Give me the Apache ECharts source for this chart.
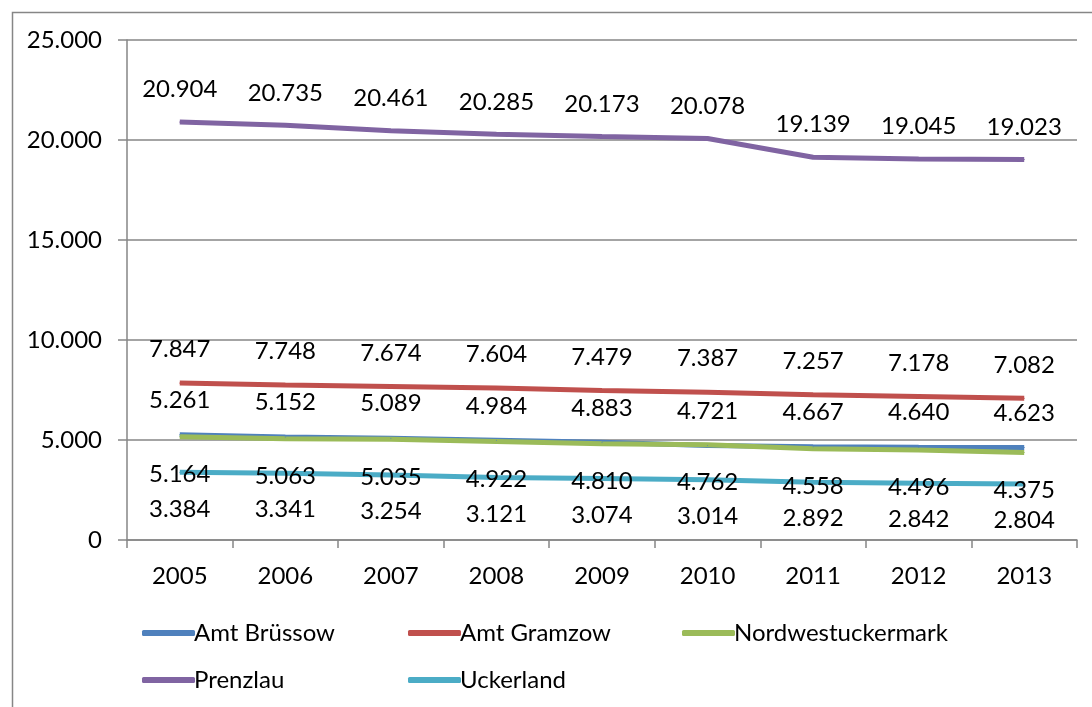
<!DOCTYPE html>
<html><head><meta charset="utf-8">
<script src="https://cdn.jsdelivr.net/npm/echarts@6/dist/echarts.min.js"></script>
<style>html,body{margin:0;padding:0;background:#fff}#c{width:1092px;height:707px}</style>
</head><body><div id="c"></div>
<script>
const years = ['2005','2006','2007','2008','2009','2010','2011','2012','2013'];
const amtBruessow = [5261,5152,5089,4984,4883,4721,4667,4640,4623];
const amtGramzow = [7847,7748,7674,7604,7479,7387,7257,7178,7082];
const nordwestuckermark = [5164,5063,5035,4922,4810,4762,4558,4496,4375];
const prenzlau = [20904,20735,20461,20285,20173,20078,19139,19045,19023];
const uckerland = [3384,3341,3254,3121,3074,3014,2892,2842,2804];
const yTicks = {min:0, max:25000, interval:5000};

const FONT = 'Lato';
const fmt = v => { const s = String(Math.round(v)); return s.replace(/\B(?=(\d{3})+(?!\d))/g, '.'); };

function mk(name, data, color, pos, dist) {
  return {
    name, type:'line', data, symbol:'circle', symbolSize:1,
    itemStyle:{color}, lineStyle:{color, width:5},
    label:{show:true, position:pos, distance:dist, color:'#000', fontFamily:FONT, fontSize:24,
      formatter: p => fmt(p.value)},
    emphasis:{disabled:true}, animation:false
  };
}
const chart = echarts.init(document.getElementById('c'));
const legendCommon = {
  icon:'roundRect', itemWidth:53, itemHeight:6, itemGap:0,
  textStyle:{fontFamily:FONT, fontSize:24, color:'#000', padding:[0,0,0,-6]}
};
const lg = (name, left, top) => Object.assign({}, legendCommon, {left, top, data:[name]});
chart.setOption({
  animation:false,
  graphic:[{type:'rect', left:10, top:10, shape:{width:1200, height:800}, style:{fill:'none', stroke:'#868686', lineWidth:1.5}, silent:true}],
  grid:{left:127, right:15, top:40, bottom:167},
  legend:[
    lg('Amt Brüssow', 137, 616),
    lg('Amt Gramzow', 403, 616),
    lg('Nordwestuckermark', 677, 616),
    lg('Prenzlau', 137, 663),
    lg('Uckerland', 403, 663)
  ],
  xAxis:{type:'category', data:years, boundaryGap:true,
    axisLine:{lineStyle:{color:'#868686', width:1.5}},
    axisTick:{show:true, length:8, lineStyle:{color:'#868686', width:1.5}},
    axisLabel:{color:'#000', fontFamily:FONT, fontSize:24, margin:24}},
  yAxis:{type:'value', min:yTicks.min, max:yTicks.max, interval:yTicks.interval,
    axisLine:{show:true, lineStyle:{color:'#868686', width:1.5}},
    axisTick:{show:true, length:9, lineStyle:{color:'#868686', width:1.5}},
    splitLine:{lineStyle:{color:'#868686', width:1.5}},
    axisLabel:{color:'#000', fontFamily:FONT, fontSize:24, margin:25, formatter: v => fmt(v)}},
  series:[
    mk('Amt Brüssow', amtBruessow, '#4F81BD', 'top', 22),
    mk('Amt Gramzow', amtGramzow, '#C0504D', 'top', 21),
    mk('Nordwestuckermark', nordwestuckermark, '#9BBB59', 'bottom', 25),
    mk('Prenzlau', prenzlau, '#8064A2', 'top', 20),
    mk('Uckerland', uckerland, '#4BACC6', 'bottom', 24)
  ]
});
</script></body></html>
